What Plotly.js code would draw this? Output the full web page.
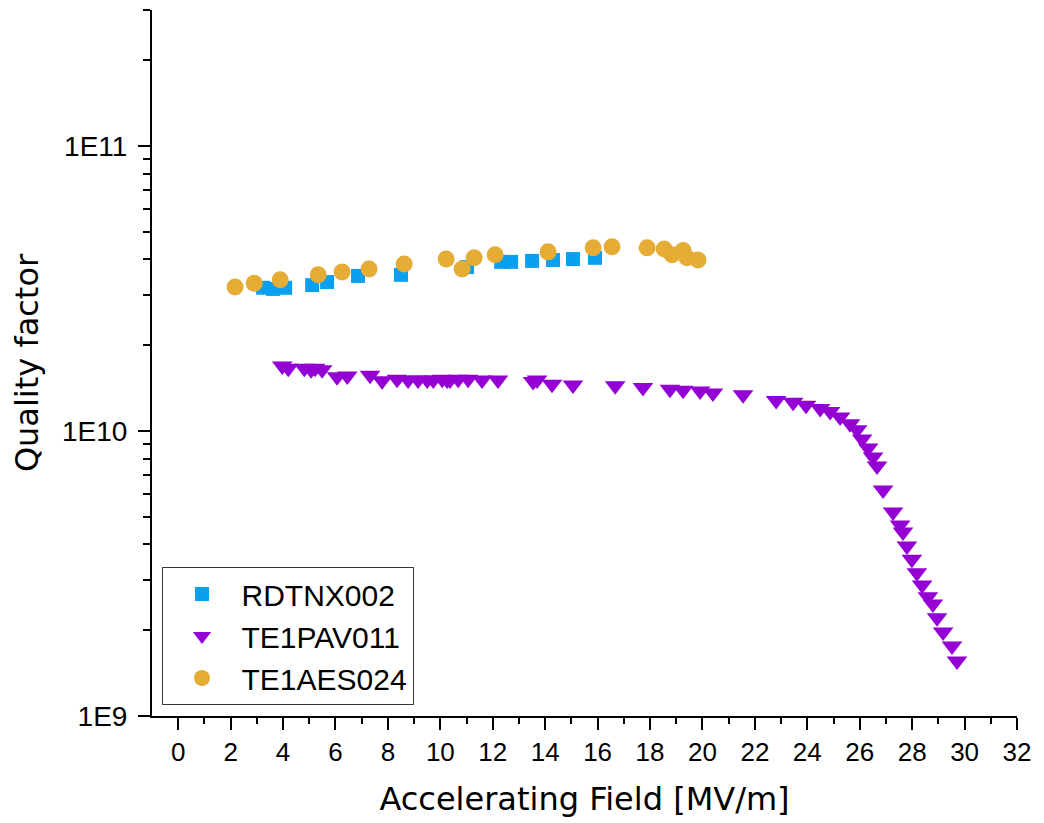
<!DOCTYPE html>
<html>
<head>
<meta charset="utf-8">
<script src="https://cdn.plot.ly/plotly-3.0.1.min.js"></script>
<style>html,body{margin:0;padding:0;background:#fff;}#chart{width:1044px;height:823px;}</style>
</head>
<body>
<div id="chart"></div>
<script>
// RDTNX002 (blue squares)
var rdtnxField = [3.24, 3.62, 4.08, 5.11, 5.68, 6.86, 8.50, 11.02, 12.32, 12.70, 13.50, 14.30, 15.06, 15.90];
var rdtnxQ = [3.18e10, 3.15e10, 3.18e10, 3.25e10, 3.33e10, 3.50e10, 3.53e10, 3.76e10, 3.92e10, 3.92e10, 3.95e10, 3.98e10, 4.01e10, 4.05e10];

// TE1PAV011 (purple down-triangles)
var pavField = [3.97, 4.20, 4.81, 5.07, 5.22, 5.49, 6.06, 6.45, 7.32, 7.78, 8.35, 8.77, 9.15, 9.50, 9.73, 10.07, 10.26, 10.37, 10.68, 11.06, 11.59, 12.20, 13.54, 13.69, 14.26, 15.06, 16.67, 17.73, 18.76, 19.26, 19.91, 20.40, 21.55, 22.81, 23.46, 23.95, 24.49, 24.87, 25.25, 25.63, 25.90, 26.09, 26.32, 26.51, 26.66, 26.89, 27.27, 27.54, 27.65, 27.80, 27.99, 28.18, 28.38, 28.60, 28.79, 28.95, 29.18, 29.52, 29.71];
var pavQ = [1.69e10, 1.66e10, 1.66e10, 1.64e10, 1.66e10, 1.64e10, 1.55e10, 1.56e10, 1.57e10, 1.50e10, 1.52e10, 1.51e10, 1.51e10, 1.51e10, 1.51e10, 1.52e10, 1.51e10, 1.51e10, 1.52e10, 1.52e10, 1.51e10, 1.51e10, 1.49e10, 1.51e10, 1.46e10, 1.45e10, 1.44e10, 1.42e10, 1.40e10, 1.39e10, 1.38e10, 1.36e10, 1.34e10, 1.28e10, 1.26e10, 1.23e10, 1.20e10, 1.17e10, 1.12e10, 1.06e10, 1.01e10, 9.38e9, 8.71e9, 8.11e9, 7.54e9, 6.21e9, 5.20e9, 4.68e9, 4.42e9, 3.95e9, 3.55e9, 3.18e9, 2.88e9, 2.62e9, 2.47e9, 2.21e9, 1.97e9, 1.76e9, 1.56e9];

// TE1AES024 (orange circles)
var aesField = [2.17, 2.90, 3.89, 5.34, 6.25, 7.28, 8.62, 10.22, 10.83, 11.29, 12.09, 14.11, 15.83, 16.55, 17.89, 18.54, 18.84, 19.26, 19.41, 19.83];
var aesQ = [3.20e10, 3.30e10, 3.39e10, 3.53e10, 3.61e10, 3.70e10, 3.85e10, 4.01e10, 3.70e10, 4.05e10, 4.15e10, 4.25e10, 4.39e10, 4.43e10, 4.39e10, 4.35e10, 4.15e10, 4.30e10, 4.05e10, 3.98e10];

var seriesNames = ['RDTNX002', 'TE1PAV011', 'TE1AES024'];

var yTickVals = [1e9, 1e10, 1e11];
var yTickText = ['1E9', '1E10', '1E11'];
var yMinorVals = [2e9, 3e9, 4e9, 5e9, 6e9, 7e9, 8e9, 9e9, 2e10, 3e10, 4e10, 5e10, 6e10, 7e10, 8e10, 9e10, 2e11, 3e11];
var xMinorVals = [1, 3, 5, 7, 9, 11, 13, 15, 17, 19, 21, 23, 25, 27, 29, 31];

var traces = [
  {x: rdtnxField, y: rdtnxQ, name: seriesNames[0], type: 'scatter', mode: 'markers',
   marker: {symbol: 'square', size: 14, color: '#0AA0F0'}},
  {x: pavField, y: pavQ, name: seriesNames[1], type: 'scatter', mode: 'markers',
   marker: {symbol: 'triangle-down', size: 18, color: '#9400D3'}},
  {x: aesField, y: aesQ, name: seriesNames[2], type: 'scatter', mode: 'markers',
   marker: {symbol: 'circle', size: 17, color: '#E5AC36'}}
];

var layout = {
  width: 1044, height: 823,
  margin: {l: 152, r: 27, t: 10, b: 107},
  paper_bgcolor: '#fff', plot_bgcolor: '#fff',
  showlegend: true,
  legend: {
    x: 0.011, y: 0.0156, xanchor: 'left', yanchor: 'bottom',
    bordercolor: '#333', borderwidth: 1, bgcolor: '#fff',
    font: {family: 'Liberation Sans, Arial, sans-serif', size: 30, color: '#000'},
    itemwidth: 69
  },
  xaxis: {
    range: [-1, 32], tick0: 0, dtick: 2,
    showline: true, linecolor: '#000', linewidth: 2,
    ticks: 'outside', ticklen: 12, tickwidth: 2, tickcolor: '#000',
    showgrid: false, zeroline: false,
    tickfont: {family: 'Liberation Sans, Arial, sans-serif', size: 26, color: '#000'},
    minor: {tickmode: 'array', tickvals: xMinorVals, ticks: 'outside', ticklen: 6, tickwidth: 2, tickcolor: '#000', showgrid: false},
    title: {text: 'Accelerating Field [MV/m]', font: {family: 'DejaVu Sans', size: 32, color: '#000'}, standoff: 21}
  },
  yaxis: {
    type: 'log', range: [9, 11.477],
    tickmode: 'array', tickvals: yTickVals, ticktext: yTickText,
    showline: true, linecolor: '#000', linewidth: 2,
    ticks: 'outside', ticklen: 12, tickwidth: 2, tickcolor: '#000',
    ticklabelstandoff: 5,
    showgrid: false, zeroline: false,
    tickfont: {family: 'Liberation Sans, Arial, sans-serif', size: 28, color: '#000'},
    minor: {tickmode: 'array', tickvals: yMinorVals, ticks: 'outside', ticklen: 7, tickwidth: 2, tickcolor: '#000', showgrid: false},
    title: {text: 'Quality factor', font: {family: 'DejaVu Sans', size: 32, color: '#000'}, standoff: 14}
  }
};

Plotly.newPlot('chart', traces, layout, {displayModeBar: false, staticPlot: true});
</script>
</body>
</html>
